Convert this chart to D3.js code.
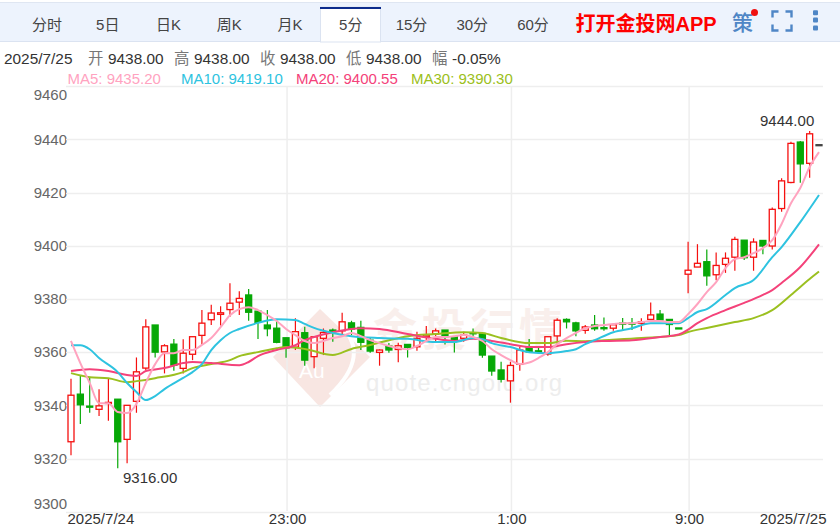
<!DOCTYPE html>
<html><head><meta charset="utf-8">
<script src="https://cdnjs.cloudflare.com/ajax/libs/d3/7.8.5/d3.min.js"></script>
<style>html,body{margin:0;padding:0;background:#fff}svg{display:block}text{font-family:"Liberation Sans",Arial,"Noto Sans CJK SC",sans-serif}</style>
</head><body><svg id="c" width="840" height="527"></svg>
<script>
const tabs=["分时","5日","日K","周K","月K","5分","15分","30分","60分"];
const yTicks=[9460,9440,9420,9400,9380,9360,9340,9320,9300];
const xTicks=[[0,"2025/7/24"],[23,"23:00"],[47,"1:00"],[66,"9:00"],[80,"2025/7/25"]];
const opens=[9326.3,9344.2,9339.7,9338.5,9340.7,9342.3,9327.2,9341.5,9354,9370.2,9360.1,9363,9353.9,9359.2,9366.3,9372.2,9374.2,9376,9378.8,9381.5,9375.4,9370.2,9369,9365.4,9361.9,9367.3,9358.3,9365.2,9368.3,9368,9371,9369.3,9364.5,9359.9,9362.3,9361,9362.9,9362,9365.8,9366.8,9368.3,9365.8,9365.2,9367.3,9367,9358.5,9353.3,9349.2,9355.4,9362,9360.5,9359.3,9366.1,9372.3,9371,9368.2,9370.2,9369.2,9369,9370.9,9370.9,9370.8,9372.3,9374.3,9372.3,9369.1,9389.3,9392,9394,9389.1,9393,9395.7,9402.1,9395.7,9402,9399.9,9414,9423.8,9439,9431,9438];
const closes=[9343.8,9340.2,9339.3,9339.8,9341.1,9326.3,9340,9352.6,9369.5,9360,9362.4,9355.1,9359.6,9365.8,9370.9,9374.7,9374.8,9378.4,9380.2,9375,9371.2,9368.8,9363.7,9361.6,9367.7,9357,9365.8,9367.4,9367.7,9371.4,9368.7,9363.7,9360.4,9360.8,9360.8,9362.4,9361.8,9365.2,9366.4,9368,9366.3,9364.5,9366.4,9366.9,9358.9,9352.9,9349.8,9355,9360.8,9360.1,9360,9365.8,9372,9371.4,9368,9369.5,9368.8,9368.8,9370.3,9370.7,9370.7,9371.4,9374,9372.1,9370.4,9368.9,9390.8,9393.4,9388.7,9392.6,9395.3,9402.4,9395.5,9401.4,9399.9,9413.7,9424.4,9438.5,9430.8,9442.1,9438];
const highs=[9350,9351,9350.7,9346,9350.1,9342.3,9340,9358,9372.4,9370.2,9363,9364.9,9364.8,9365.8,9375.8,9377.8,9377.3,9385.9,9382.9,9383.7,9375.4,9375.8,9372,9365.4,9372.7,9369.5,9365.8,9368.9,9368.9,9374.8,9371.8,9371.8,9365.5,9361,9363.4,9363.5,9362.9,9367.7,9369.8,9368.9,9368.3,9365.8,9367.7,9368.9,9367,9358.5,9356.4,9356.4,9362,9364.9,9362,9365.8,9372.7,9372.7,9371.4,9370.2,9374,9373,9370.8,9372.8,9372.8,9372.7,9378.7,9375.8,9372.3,9369.1,9401.5,9400.6,9398.6,9397.5,9397.5,9403.4,9402.1,9402.8,9402,9414.4,9425.4,9439.1,9439.4,9443.2,9438];
const lows=[9321.2,9333,9337.2,9336,9334.2,9316.3,9318.2,9337.2,9353.3,9358,9352,9353,9352,9357,9363,9370.2,9370,9373.3,9374,9371.8,9364.9,9366,9363.3,9357.9,9360.8,9354.9,9353.9,9358.9,9363.9,9366.4,9366.4,9360.8,9359.8,9354.9,9359.8,9356.2,9358,9360.5,9364,9363.9,9362.9,9359.9,9363.9,9365.8,9357.9,9351.1,9348.6,9341,9353,9360.1,9359.5,9358.6,9362,9368.9,9366,9366.9,9368,9368,9368,9368.3,9368.3,9368,9372,9371.4,9366.4,9368.9,9382.1,9392,9385,9387,9389.8,9390.6,9394.6,9390.6,9396.8,9398.6,9412.8,9423.5,9423.7,9425.6,9438];
const ma5=[9364.2,9355.9,9348.4,9340.8,9340.8,9337.5,9337.1,9340.5,9348.4,9355.5,9359.6,9359.6,9360.8,9360.8,9362.7,9365.3,9369.4,9373.9,9376.2,9376.9,9375.8,9373.9,9371.7,9368.7,9366.4,9364.2,9363.4,9364.2,9365.3,9366,9367.2,9366,9364.5,9363.4,9362.3,9361.5,9361.1,9362.3,9364.2,9365.7,9365.7,9366,9366.4,9365.7,9364.2,9361.1,9358.9,9357,9355.5,9356.1,9357.8,9360,9363,9365.3,9367.2,9369,9369.8,9370.2,9370.6,9370.9,9370.9,9371.3,9371.7,9371.7,9371.3,9371.3,9374.3,9378.1,9382.6,9386.3,9391.6,9395,9395.7,9397.2,9399.1,9402.1,9408.2,9416,9421.7,9429.6,9435.2];
const ma10Idx=[0,1,2,3,5,6,7,8,9,10,12,13,14,15,16,17,18,20,22,24,25,26,28,30,33,36,39,41,43,44,45,47,49,51,53,54,55,56,58,60,62,65,66,67,68,70,71,73,75,76,78,80];
const ma10=[9362.6,9362.6,9361.1,9357.8,9352.5,9348.4,9345,9342,9343.5,9346.1,9350.3,9352.5,9355.5,9360.8,9364.5,9367.2,9368.7,9371,9372.4,9372.1,9370.6,9369.1,9367.2,9366,9365.3,9365,9363.8,9363.8,9365.3,9364.9,9363.4,9361.9,9360,9359.6,9360.4,9361.1,9363,9364.5,9367.5,9369,9370.9,9370.9,9372.8,9375.1,9376.2,9381.5,9384.1,9387.1,9395.7,9399.5,9408.9,9419.1];
const ma20Idx=[0,2,4,6,7,8,10,12,13,15,18,19,20,22,24,25,26,28,31,33,36,39,41,43,45,47,49,51,53,55,57,60,63,65,66,67,68,70,72,74,75,76,78,80];
const ma20=[9352.9,9353.6,9352.9,9351.4,9351,9352.9,9354,9355.9,9356.3,9355.9,9355.1,9356.3,9358.5,9360.8,9362.6,9364.5,9365.7,9367.5,9369,9368.7,9366.8,9365,9364.2,9365,9364.2,9363,9361.9,9361.9,9363,9363.8,9364.2,9364.5,9365.7,9366.6,9368.5,9370.9,9372.8,9375.8,9378.5,9381.5,9383.3,9386,9392,9400.55];
const ma30Idx=[0,2,4,6,7,9,12,13,15,17,18,20,22,23,25,28,30,32,34,36,39,42,44,46,49,51,53,55,57,61,65,66,68,71,73,75,77,79,80];
const ma30=[9352.1,9350.6,9350.2,9348.7,9349.1,9350.2,9352.5,9354,9355.5,9357,9358.5,9360,9361.5,9361.9,9361.2,9358.9,9361.2,9362.7,9364.5,9366,9366.8,9367.5,9367.2,9365.3,9363.4,9363.4,9364.3,9364.1,9364.5,9365.3,9366.4,9367.6,9369.1,9371.3,9372.8,9375.8,9381.5,9387.5,9390.3];
const legend=[["MA5: 9435.20",67.5,"#ffa3bf"],["MA10: 9419.10",181,"#2ec3e0"],["MA20: 9400.55",296,"#f4427a"],["MA30: 9390.30",411,"#9bc020"]];
const info=[["2025/7/25","#333",4],["开","#777",88],["9438.00","#333",108],["高","#777",174],["9438.00","#333",194],["收","#777",260],["9438.00","#333",280],["低","#777",346],["9438.00","#333",366],["幅","#777",432],["-0.05%","#333",452]];

const svg=d3.select("#c");
const x=d3.scaleLinear().domain([0,80]).range([71,819]);
const y=d3.scaleLinear().domain([9300,9460]).range([511.7,86.2]);
const ff='"Liberation Sans",Arial,sans-serif';
const cjk='"Liberation Sans","Noto Sans CJK SC",sans-serif';

// header
svg.append("rect").attr("x",0).attr("y",2).attr("width",840).attr("height",40).attr("fill","#edf3fd");
svg.append("line").attr("x1",0).attr("x2",840).attr("y1",2.5).attr("y2",2.5).attr("stroke","#dfe6f2");
svg.append("line").attr("x1",0).attr("x2",840).attr("y1",41.5).attr("y2",41.5).attr("stroke","#dbe3f1");
svg.append("rect").attr("x",320.5).attr("y",7).attr("width",60).attr("height",35).attr("fill","#fff").attr("stroke","#dbe3f1");
svg.append("rect").attr("x",320).attr("y",7).attr("width",61).attr("height",2).attr("fill","#0d2c8c");
const tabScale=d3.scalePoint().domain(tabs).range([47,533]);
svg.selectAll(".tab").data(tabs).join("text").attr("x",d=>tabScale(d)).attr("y",29.5).attr("text-anchor","middle")
  .attr("font-size",15).attr("fill","#444").style("font-family",cjk).text(d=>d);
svg.append("text").attr("x",575.5).attr("y",30.5).attr("font-size",20).attr("font-weight","bold").attr("fill","#f00")
  .style("font-family",cjk).text("打开金投网APP");
svg.append("text").attr("x",732).attr("y",30).attr("font-size",21).attr("font-weight","500").attr("fill","#4f86c6")
  .style("font-family",'"Noto Sans CJK SC",sans-serif').text("策");
svg.append("circle").attr("cx",754.5).attr("cy",12.5).attr("r",3.5).attr("fill","#f01010");
[[772.5,11.5,1,1],[791.5,11.5,-1,1],[772.5,30.5,1,-1],[791.5,30.5,-1,-1]].forEach(([a,b,s,t])=>{
  svg.append("path").attr("d",`M${a+s*6},${b}H${a}V${b+t*6}`).attr("fill","none").attr("stroke","#4f86c6").attr("stroke-width",2.4);
});
[12.7,20,28].forEach(c=>svg.append("rect").attr("x",813).attr("y",c-2.5).attr("width",5).attr("height",5).attr("rx",1).attr("fill","#4f86c6"));

// info rows
svg.selectAll(".info").data(info).join("text").attr("x",d=>d[2]).attr("y",64).attr("font-size",15.4).attr("fill",d=>d[1])
  .style("font-family",cjk).text(d=>d[0]);
svg.selectAll(".leg").data(legend).join("text").attr("x",d=>d[1]).attr("y",84).attr("font-size",15).attr("fill",d=>d[2]).text(d=>d[0]);

// watermark
const wm=svg.append("g");
wm.append("path").attr("d","M320,309 L370,357 L320,407 L273,357 Z").attr("fill","#f8e6e2");
wm.append("path").attr("d","M340,325 Q372,355 330,395").attr("fill","none").attr("stroke","#fff").attr("stroke-width",4);
wm.append("text").attr("x",299).attr("y",378).attr("font-size",21).attr("fill","#fff").text("Au");
wm.append("text").attr("x",373).attr("y",346).attr("font-size",44).attr("fill","#f9efec")
  .style("font-family",'"Noto Sans CJK SC",sans-serif').attr("font-weight","bold").attr("textLength",190).text("金投行情");
wm.append("text").attr("x",366).attr("y",391).attr("font-size",24).attr("fill","#ededed").attr("textLength",196).text("quote.cngold.org");

// grid + axes
const yAxis=svg.append("g").attr("transform","translate(66,0)").call(d3.axisLeft(y).tickValues(yTicks).tickSize(0).tickPadding(-1).tickFormat(d3.format("d")));
yAxis.select(".domain").remove();
yAxis.selectAll("text").attr("font-size",15).attr("fill","#666").style("font-family",ff)
  .attr("dy","0.32em").attr("y",d=>d===9460?8:d===9300?-8:0);
svg.append("g").selectAll("line").data(yTicks).join("line").attr("x1",66).attr("x2",823).attr("y1",d=>Math.round(y(d))+.5).attr("y2",d=>Math.round(y(d))+.5).attr("stroke","#eee").attr("stroke-width",1.5);
svg.append("g").selectAll("line").data(xTicks.slice(1,4)).join("line").attr("x1",d=>x(d[0])+1).attr("x2",d=>x(d[0])+1).attr("y1",87).attr("y2",511).attr("stroke","#eee").attr("stroke-width",1.5);
const xa=d3.axisBottom(x).tickValues(xTicks.map(d=>d[0])).tickSize(0).tickPadding(2.2).tickFormat(i=>xTicks.find(t=>t[0]===i)[1]);
const xAxis=svg.append("g").attr("transform","translate(0,511)").call(xa);
xAxis.select(".domain").remove();
xAxis.selectAll("text").attr("font-size",15).attr("fill","#333").style("font-family",ff)
  .attr("text-anchor",d=>d===0?"start":d===80?"end":"middle").attr("dx",d=>d===0?-4:d===80?7:1);

// candles
const idx=d3.range(opens.length);
const RED="#f5100f",GREEN="#06a806";
const col=i=>closes[i]>opens[i]?RED:closes[i]<opens[i]?GREEN:"#444";
const g=svg.append("g");
g.selectAll(".w").data(idx).join("line").attr("x1",i=>x(i)).attr("x2",i=>x(i)).attr("y1",i=>y(highs[i])).attr("y2",i=>y(lows[i])).attr("stroke",col).attr("stroke-width",1.2);
g.selectAll(".b").data(idx).join("rect").attr("x",i=>x(i)-3).attr("width",6)
  .attr("y",i=>y(Math.max(opens[i],closes[i]))).attr("height",i=>Math.max(1,Math.abs(y(opens[i])-y(closes[i]))))
  .attr("fill",i=>closes[i]>opens[i]?"#fff":col(i)).attr("stroke",col).attr("stroke-width",1.3);

// moving averages
const line=d3.line().x(d=>x(d[0])).y(d=>y(d[1])).curve(d3.curveMonotoneX);
const zip=(a,b)=>a.map((v,k)=>[v,b[k]]);
[[zip(ma30Idx,ma30),"#9bc020"],[zip(ma20Idx,ma20),"#f4427a"],[zip(ma10Idx,ma10),"#2ec3e0"],[zip(idx,ma5),"#ffa3bf"]].forEach(([d,c])=>{
  svg.append("path").attr("d",line(d)).attr("fill","none").attr("stroke",c).attr("stroke-width",2);
});

// extremes
svg.append("text").attr("x",123).attr("y",483).attr("font-size",15).attr("fill","#333").text("9316.00");
svg.append("text").attr("x",760).attr("y",126).attr("font-size",15).attr("fill","#333").text("9444.00");
</script></body></html>
